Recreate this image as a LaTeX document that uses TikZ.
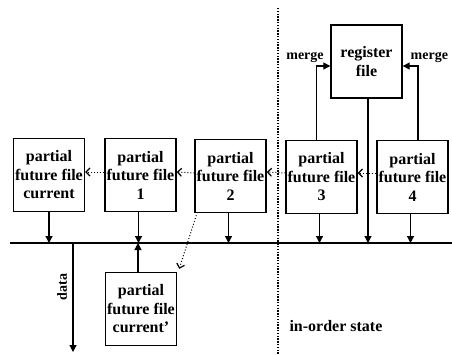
\documentclass[tikz,border=0pt]{standalone}
\usepackage{fontspec}
\setmainfont{Liberation Serif}
\usetikzlibrary{arrows.meta}

\begin{document}
\begin{tikzpicture}[x=1pt, y=-1pt, >={Triangle[length=7pt,width=7pt]},
    block/.style={draw, line width=1.4pt, minimum width=71pt, minimum height=73pt,
        inner sep=0pt, align=center, font=\fontsize{16}{18.5}\selectfont\bfseries},
    lbl/.style={font=\fontsize{14}{16}\selectfont\bfseries},
    pass/.style={dotted, line width=1pt, -{Straight Barb[length=4pt,width=8pt,line width=1.2pt]}}]
    \useasboundingbox (0,0) rectangle (452,354);

    % future files
    \node[block] (cur) at (49, 175) {partial\\future file\\current};
    \node[block] (pf1) at (140.5, 175) {partial\\future file\\1};
    \node[block] (pf2) at (230.5, 176) {partial\\future file\\2};
    \node[block] (pf3) at (321.5, 177) {partial\\future file\\3};
    \node[block] (pf4) at (412.5, 177) {partial\\future file\\4};
    \node[block] (reg) at (366.5, 61.5) {register\\file};
    \node[block] (curp) at (141, 309) {partial\\future file\\current'};

    % bus and divider
    \coordinate (busL) at (10, 243);
    \coordinate (busR) at (452, 243);
    \draw[line width=1.4pt] (busL) -- (busR);
    \coordinate (divT) at (278, 8);
    \coordinate (divB) at (278, 354);
    \draw[line width=1.6pt, dash pattern=on 1.4pt off 1.4pt] (divT) -- (divB);

    % to the bus
    \draw[->, line width=1.2pt] (cur.south) -- (cur.south |- busL);
    \draw[->, line width=1.2pt] ([xshift=-2pt]pf1.south) -- ([xshift=-2pt]pf1.south |- busL);
    \draw[->, line width=1.2pt] ([xshift=-2pt]pf2.south) -- ([xshift=-2pt]pf2.south |- busL);
    \draw[->, line width=1.2pt] ([xshift=-2pt]pf3.south) -- ([xshift=-2pt]pf3.south |- busL);
    \draw[->, line width=1.2pt] ([xshift=-2pt]pf4.south) -- ([xshift=-2pt]pf4.south |- busL);
    \draw[->, line width=1.2pt] ([xshift=1.5pt]reg.south) -- ([xshift=1.5pt]reg.south |- busL);
    \draw[->, line width=1.2pt] ([xshift=-3pt]curp.north) -- ([xshift=-3pt]curp.north |- busL);

    % passing between future files
    \draw[pass] ([yshift=3pt]pf1.west) -- ([yshift=3pt]cur.east);
    \draw[pass] ([yshift=3pt]pf2.west) -- ([yshift=3pt]pf1.east);
    \draw[pass] ([yshift=4pt]pf3.west) -- ([yshift=4pt]pf2.east);
    \draw[pass] ([yshift=4pt]pf4.west) -- ([yshift=4pt]pf3.east);
    \draw[pass] ([xshift=2pt,yshift=-2pt]pf2.south west) -- ([xshift=2pt,yshift=3pt]curp.north east);

    % merge into register file
    \draw[->, line width=1.2pt] ([xshift=-5pt]pf3.north) |- ([yshift=-4.5pt]reg.west);
    \draw[->, line width=1.2pt] ([xshift=5.5pt]pf4.north) |- ([yshift=-4.5pt]reg.east);
    \node[lbl] (mL) at (305, 57) {merge};
    \node[lbl, anchor=east] (mR) at (451.5, 57) {merge};

    % data out
    \coordinate (dataE) at (73, 352);
    \draw[->, line width=1.2pt] (busL -| dataE) -- (dataE);
    \node[lbl, rotate=90] (data) at (62, 287) {data};

    \node[font=\fontsize{16}{18}\selectfont\bfseries, anchor=west] (ios) at (286, 326) {in-order state};
\end{tikzpicture}
\end{document}
